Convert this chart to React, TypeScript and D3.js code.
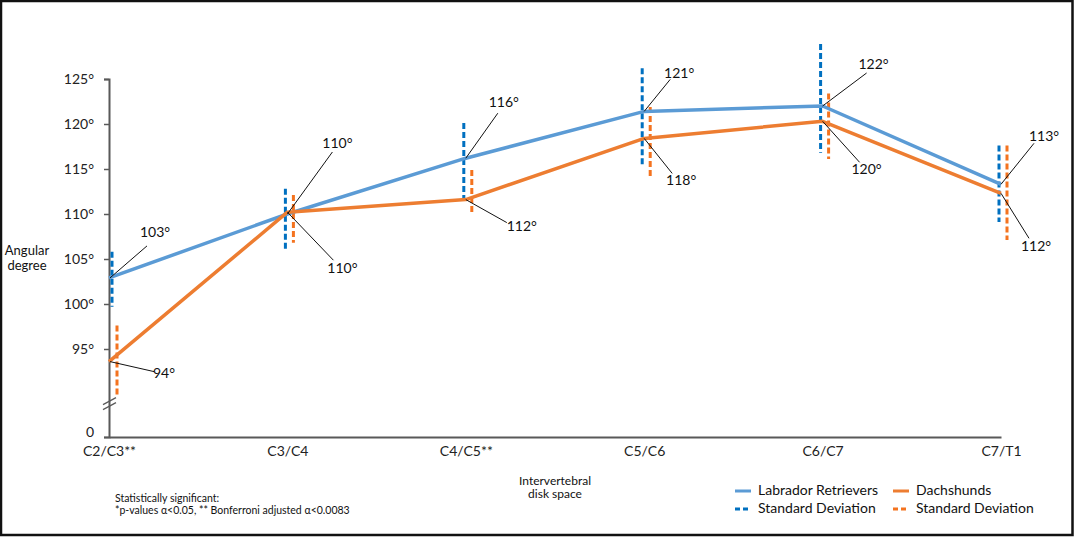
import React, { useEffect, useRef } from "react";
import * as d3 from "d3";

// intervertebral disk spaces
const categories = ["C2/C3**", "C3/C4", "C4/C5**", "C5/C6", "C6/C7", "C7/T1"];

// mean angular degree per disk space
const labradorMean = [102.9, 110.0, 116.2, 121.4, 122.0, 113.3];
const dachshundMean = [93.6, 110.2, 111.6, 118.4, 120.3, 112.3];

// standard deviation bars (top / bottom ends, degrees)
const labradorSdHigh = [105.8, 112.8, 120.1, 126.2, 128.9, 117.6];
const labradorSdLow = [99.7, 105.8, 111.6, 115.2, 116.8, 109.1];
const dachshundSdHigh = [97.6, 112.1, 114.9, 121.9, 123.4, 117.6];
const dachshundSdLow = [89.9, 106.8, 110.1, 113.9, 116.1, 107.1];

const yTicks = [0, 95, 100, 105, 110, 115, 120, 125];

// callout placement (text offset, leader end offset) relative to the point
const labCallout = [
  [45, -44, 37, -32],
  [50, -70, 45, -62],
  [38, -55, 32, -45],
  [35, -37, 26, -32],
  [51, -41, 44, -33],
  [43, -47, 33, -41],
];
const dachCallout = [
  [54, 13, 44, 10],
  [55, 57, 46, 48],
  [56, 28, 41, 23],
  [37, 43, 28, 35],
  [44, 49, 37, 41],
  [35, 54, 28, 45],
];

const BLUE = "#5B9BD5";
const BLUE_SD = "#0070C0";
const ORANGE = "#ED7D31";
const ORANGE_SD = "#F4731F";
const FONT = "Lato, 'Open Sans', sans-serif";

const Chart: React.FC = () => {
  const ref = useRef<SVGSVGElement>(null);

  useEffect(() => {
    const svg = d3.select(ref.current);
    svg.selectAll("*").remove();

    const width = 1074;
    const height = 537;

    const x = d3.scalePoint<string>().domain(categories).range([109, 1001]);
    // broken axis: 0 .. 89 squeezed, 89 .. 125 linear
    const y = d3.scaleLinear().domain([0, 89, 125]).range([437, 403, 79]);
    const x0 = x(categories[0])!;

    svg.attr("width", width).attr("height", height);

    // frame
    svg
      .append("rect")
      .attr("x", 1)
      .attr("y", 1)
      .attr("width", width - 2.5)
      .attr("height", height - 3)
      .attr("fill", "white")
      .attr("stroke", "#111")
      .attr("stroke-width", 2.5);

    // y axis
    const yAxis = svg
      .append("g")
      .attr("transform", `translate(${x0},0)`)
      .call(
        d3
          .axisLeft(y)
          .tickValues(yTicks)
          .tickSize(5)
          .tickPadding(10)
          .tickFormat((d) => (+d === 0 ? "0" : `${d}°`))
      );
    yAxis.select(".domain").attr("stroke", "#595959").attr("stroke-width", 2);
    yAxis.selectAll(".tick line").attr("stroke", "#595959").attr("stroke-width", 1.5);
    yAxis
      .selectAll(".tick text")
      .attr("font-family", FONT)
      .attr("font-size", 14)
      .attr("fill", "#222");
    // the "0" sits just above the first category label
    yAxis
      .selectAll<SVGTextElement, number>(".tick text")
      .filter((d) => d === 0)
      .attr("dy", "-0.05em");

    // x axis
    const xAxis = svg
      .append("g")
      .attr("transform", `translate(0,${y(0)})`)
      .call(d3.axisBottom(x).tickSize(0).tickPadding(9));
    xAxis.select(".domain").attr("stroke", "#595959").attr("stroke-width", 2);
    xAxis
      .selectAll(".tick text")
      .attr("font-family", FONT)
      .attr("font-size", 14)
      .attr("fill", "#222");

    // axis break marks
    const by = y(88.6);
    [-2.5, 2.5].forEach((o) => {
      svg
        .append("line")
        .attr("x1", x0 - 6)
        .attr("y1", by + o + 4)
        .attr("x2", x0 + 7)
        .attr("y2", by + o - 3)
        .attr("stroke", "#595959")
        .attr("stroke-width", 1.2);
    });

    // SD bars
    const sdBars = (
      hi: number[],
      lo: number[],
      color: string,
      xpos: (i: number) => number
    ) => {
      svg
        .append("g")
        .selectAll("line")
        .data(categories)
        .join("line")
        .attr("x1", (_, i) => xpos(i))
        .attr("x2", (_, i) => xpos(i))
        .attr("y1", (_, i) => y(hi[i]))
        .attr("y2", (_, i) => y(lo[i]))
        .attr("stroke", color)
        .attr("stroke-width", 3)
        .attr("stroke-dasharray", "6,3");
    };
    sdBars(labradorSdHigh, labradorSdLow, BLUE_SD, (i) =>
      Math.max(x(categories[i])! - 2, x0 + 3)
    );
    sdBars(dachshundSdHigh, dachshundSdLow, ORANGE_SD, (i) =>
      Math.max(x(categories[i])! + 6, x0 + 8)
    );

    // mean lines
    const line = d3
      .line<number>()
      .x((_, i) => x(categories[i])!)
      .y((d) => y(d));
    svg
      .append("path")
      .datum(labradorMean)
      .attr("d", line)
      .attr("fill", "none")
      .attr("stroke", BLUE)
      .attr("stroke-width", 3.5)
      .attr("stroke-linejoin", "round");
    svg
      .append("path")
      .datum(dachshundMean)
      .attr("d", line)
      .attr("fill", "none")
      .attr("stroke", ORANGE)
      .attr("stroke-width", 3.5)
      .attr("stroke-linejoin", "round");

    // callouts
    const callouts = (vals: number[], offs: number[][]) => {
      vals.forEach((v, i) => {
        const px = x(categories[i])! + (i === 0 ? 1 : 0);
        const py = y(v);
        const [tx, ty, lx, ly] = offs[i];
        svg
          .append("line")
          .attr("x1", px)
          .attr("y1", py)
          .attr("x2", px + lx)
          .attr("y2", py + ly)
          .attr("stroke", "#111")
          .attr("stroke-width", 1);
        svg
          .append("text")
          .attr("x", px + tx)
          .attr("y", py + ty)
          .attr("text-anchor", "middle")
          .attr("dominant-baseline", "middle")
          .attr("font-family", FONT)
          .attr("font-size", 14)
          .attr("fill", "#111")
          .text(`${Math.round(v)}°`);
      });
    };
    callouts(labradorMean, labCallout);
    callouts(dachshundMean, dachCallout);

    // axis titles
    const yTitle = svg
      .append("text")
      .attr("text-anchor", "middle")
      .attr("font-family", FONT)
      .attr("font-size", 13)
      .attr("fill", "#111");
    yTitle.append("tspan").attr("x", 27).attr("y", 255).text("Angular");
    yTitle.append("tspan").attr("x", 27).attr("y", 270).text("degree");

    const xTitle = svg
      .append("text")
      .attr("text-anchor", "middle")
      .attr("font-family", FONT)
      .attr("font-size", 12)
      .attr("fill", "#111");
    xTitle.append("tspan").attr("x", 555).attr("y", 485).text("Intervertebral");
    xTitle.append("tspan").attr("x", 555).attr("y", 498).text("disk space");

    // footnote
    const note = svg
      .append("text")
      .attr("font-family", FONT)
      .attr("font-size", 10.5)
      .attr("fill", "#111");
    note.append("tspan").attr("x", 115).attr("y", 502).text("Statistically significant:");
    note
      .append("tspan")
      .attr("x", 115)
      .attr("y", 514)
      .text("*p-values α<0.05, ** Bonferroni adjusted α<0.0083");

    // legend
    const legendItems = [
      { label: "Labrador Retrievers", color: BLUE, dash: null, lx: 735, ly: 491 },
      { label: "Dachshunds", color: ORANGE, dash: null, lx: 893, ly: 491 },
      { label: "Standard Deviation", color: BLUE_SD, dash: "5,3", lx: 735, ly: 509 },
      { label: "Standard Deviation", color: ORANGE_SD, dash: "5,3", lx: 893, ly: 509 },
    ];
    const legend = svg.append("g");
    legendItems.forEach((it) => {
      legend
        .append("line")
        .attr("x1", it.lx)
        .attr("x2", it.lx + 16)
        .attr("y1", it.ly)
        .attr("y2", it.ly)
        .attr("stroke", it.color)
        .attr("stroke-width", 3)
        .attr("stroke-dasharray", it.dash);
      legend
        .append("text")
        .attr("x", it.lx + 23)
        .attr("y", it.ly)
        .attr("dominant-baseline", "middle")
        .attr("font-family", FONT)
        .attr("font-size", 14)
        .attr("fill", "#111")
        .text(it.label);
    });
  }, []);

  return (
    <svg
      ref={ref}
      style={{ position: "absolute", left: 0, top: 0, display: "block" }}
    ></svg>
  );
};

export default function App() {
  return <Chart />;
}
